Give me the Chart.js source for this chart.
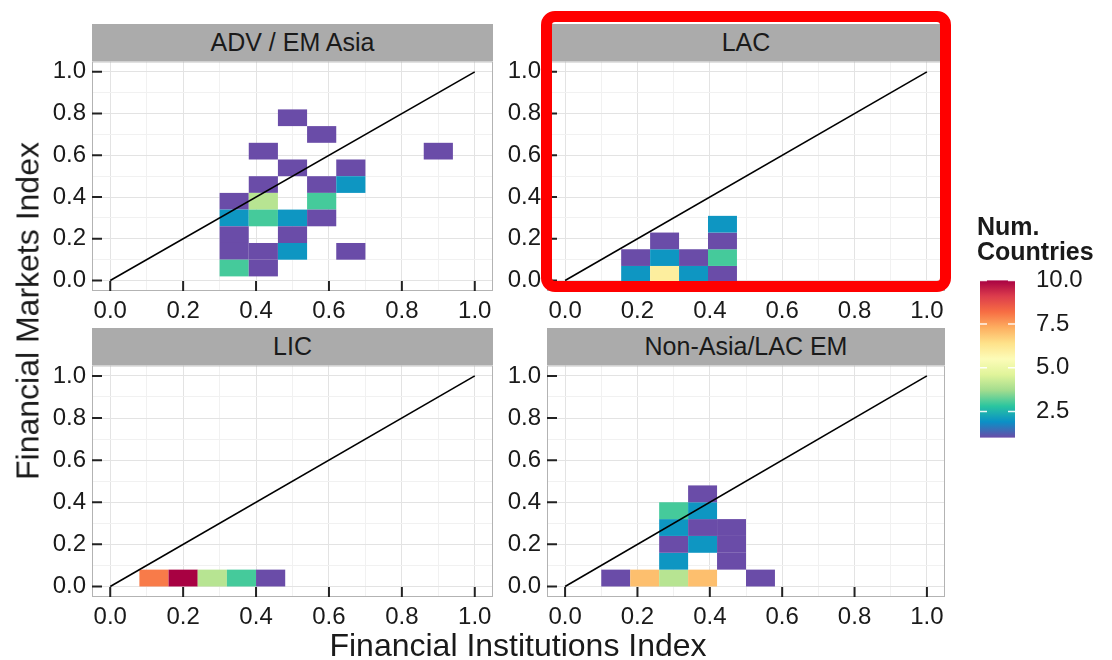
<!DOCTYPE html>
<html>
<head>
<meta charset="utf-8">
<script src="https://cdn.jsdelivr.net/npm/chart.js@4.4.1/dist/chart.umd.min.js"></script>
<style>
    body { margin: 0; background: #fff; font-family: 'Liberation Sans', Arial, sans-serif; }
    #page { position: relative; width: 1112px; height: 660px; overflow: hidden; }
    canvas { position: absolute; }
    .strip { position: absolute; height: 37px; line-height: 37px; background: #ababab; color: #1a1a1a; font-size: 25px; text-align: center; }
    .title { position: absolute; color: #1a1a1a; font-size: 32px; white-space: nowrap; }
    #legendTitle { position: absolute; left: 977px; top: 214px; font-size: 25px; font-weight: bold; line-height: 25px; color: #1a1a1a; }
    #redBox { position: absolute; left: 541px; top: 11px; width: 410px; height: 281px; box-sizing: border-box; border: 11px solid #ff0000; border-radius: 14px; }
</style>
</head>
<body>
<div id="page">
    <canvas id="advPanel" width="486" height="290" style="left:32px;top:41px"></canvas>
    <canvas id="lacPanel" width="483" height="290" style="left:487px;top:41px"></canvas>
    <canvas id="licPanel" width="486" height="292" style="left:32px;top:345px"></canvas>
    <canvas id="emPanel" width="483" height="292" style="left:487px;top:345px"></canvas>
    <canvas id="colorBar" width="135" height="212" style="left:980px;top:253px"></canvas>

    <div class="strip" style="left:92px;top:24px;width:401px">ADV / EM Asia</div>
    <div class="strip" style="left:547px;top:24px;width:398px">LAC</div>
    <div class="strip" style="left:92px;top:328px;width:401px">LIC</div>
    <div class="strip" style="left:547px;top:328px;width:398px">Non-Asia/LAC EM</div>

    <div class="title" style="left:518px;top:645px;transform:translate(-50%,-50%)">Financial Institutions Index</div>
    <div class="title" style="left:28px;top:311px;transform:translate(-50%,-50%) rotate(-90deg)">Financial Markets Index</div>

    <div id="legendTitle">Num.<br>Countries</div>
    <div id="redBox"></div>
</div>
<script>
const FONT = "'Liberation Sans', Arial, sans-serif";

// bin size of the 2d histogram
const binW = 0.08;

// ADV / EM Asia: lower-left corner of each bin and its count
const advX = [0.46, 0.54, 0.38, 0.86, 0.46, 0.62, 0.38, 0.54, 0.62, 0.30, 0.38, 0.54, 0.30, 0.38, 0.46, 0.54, 0.30, 0.46, 0.30, 0.38, 0.46, 0.62, 0.30, 0.38];
const advY = [0.74, 0.66, 0.58, 0.58, 0.50, 0.50, 0.42, 0.42, 0.42, 0.34, 0.34, 0.34, 0.26, 0.26, 0.26, 0.26, 0.18, 0.18, 0.10, 0.10, 0.10, 0.10, 0.02, 0.02];
const advN = [1, 1, 1, 1, 1, 1, 1, 1, 2, 1, 4, 3, 2, 3, 2, 1, 1, 1, 1, 1, 2, 1, 3, 1];

// LAC
const lacX = [0.155, 0.155, 0.235, 0.235, 0.235, 0.315, 0.315, 0.395, 0.395, 0.395, 0.395];
const lacY = [-0.01, 0.07, -0.01, 0.07, 0.15, -0.01, 0.07, -0.01, 0.07, 0.15, 0.23];
const lacN = [2, 1, 6, 2, 1, 2, 1, 1, 3, 1, 2];

// LIC
const licX = [0.08, 0.16, 0.24, 0.32, 0.40];
const licY = [0, 0, 0, 0, 0];
const licN = [8, 10, 4, 3, 1];

// Non-Asia/LAC EM
const emX = [0.10, 0.18, 0.26, 0.34, 0.50, 0.26, 0.42, 0.26, 0.34, 0.42, 0.26, 0.34, 0.42, 0.26, 0.34, 0.34];
const emY = [0, 0, 0, 0, 0, 0.08, 0.08, 0.16, 0.16, 0.16, 0.24, 0.24, 0.24, 0.32, 0.32, 0.40];
const emN = [1, 7, 4, 7, 1, 2, 1, 1, 2, 1, 2, 1, 1, 3, 2, 1];

// 45 degree reference line
const diagX = [0, 1];
const diagY = [0, 1];

const tickVals = [0, 0.2, 0.4, 0.6, 0.8, 1.0];
const minorVals = [0.1, 0.3, 0.5, 0.7, 0.9];
const legendTicks = [2.5, 5, 7.5, 10];
const countMin = 1;
const countMax = 10;

// spectral, low to high
const palette = ['#6a4ca8', '#0a90c6', '#2ac59f', '#a2dc8e', '#e0f49a', '#fcfcb8', '#fee28a', '#fdae60', '#f76d43', '#dc3c4c', '#a80142'];

function hexToRgb(h) {
    return [1, 3, 5].map(i => parseInt(h.slice(i, i + 2), 16));
}

function countColor(n) {
    const t = Math.min(Math.max((n - countMin) / (countMax - countMin), 0), 1) * (palette.length - 1);
    const i = Math.min(Math.floor(t), palette.length - 2);
    const f = t - i;
    const a = hexToRgb(palette[i]);
    const b = hexToRgb(palette[i + 1]);
    const c = a.map((v, k) => Math.round(v + (b[k] - v) * f));
    return `rgb(${c[0]},${c[1]},${c[2]})`;
}

const isMajor = v => tickVals.some(t => Math.abs(t - v) < 1e-6);

function axis(fitSize) {
    return {
        type: 'linear',
        min: -0.05,
        max: 1.05,
        afterBuildTicks: s => {
            s.ticks = tickVals.concat(minorVals).sort((a, b) => a - b).map(v => ({ value: v }));
        },
        afterFit: s => {
            if (s.isHorizontal()) s.height = fitSize;
            else s.width = fitSize;
        },
        grid: {
            color: c => (c.tick && isMajor(c.tick.value)) ? '#e3e3e3' : '#f1f1f1',
            lineWidth: 1,
            drawTicks: false
        },
        border: { display: false },
        ticks: {
            autoSkip: false,
            maxRotation: 0,
            padding: 6,
            color: '#1a1a1a',
            font: { size: 24, family: FONT },
            callback: v => isMajor(v) ? v.toFixed(1) : ''
        }
    };
}

function heatLayer(xs, ys, ns) {
    return {
        id: 'heat',
        beforeDatasetsDraw(chart) {
            const { ctx, chartArea, scales: { x, y } } = chart;
            ctx.save();
            ctx.beginPath();
            ctx.rect(chartArea.left, chartArea.top, chartArea.width, chartArea.height);
            ctx.clip();
            xs.forEach((x0, i) => {
                const l = x.getPixelForValue(x0);
                const r = x.getPixelForValue(x0 + binW);
                const b = y.getPixelForValue(ys[i]);
                const t = y.getPixelForValue(ys[i] + binW);
                ctx.fillStyle = countColor(ns[i]);
                ctx.fillRect(l, t, r - l, b - t);
            });
            ctx.restore();
        },
        afterDraw(chart) {
            const { ctx, chartArea, scales: { x, y } } = chart;
            ctx.save();
            ctx.strokeStyle = '#b3b3b3';
            ctx.lineWidth = 1;
            ctx.strokeRect(chartArea.left + 0.5, chartArea.top + 0.5, chartArea.width - 1, chartArea.height - 1);
            // ticks point into the panel
            ctx.strokeStyle = '#222';
            ctx.lineWidth = 2;
            ctx.beginPath();
            tickVals.forEach(v => {
                const px = x.getPixelForValue(v);
                ctx.moveTo(px, chartArea.bottom);
                ctx.lineTo(px, chartArea.bottom - 10);
                const py = y.getPixelForValue(v);
                ctx.moveTo(chartArea.left, py);
                ctx.lineTo(chartArea.left + 10, py);
            });
            ctx.stroke();
            ctx.restore();
        }
    };
}

function makePanel(id, xs, ys, ns) {
    return new Chart(document.getElementById(id), {
        type: 'scatter',
        data: {
            datasets: [{
                type: 'line',
                data: diagX.map((x, i) => ({ x, y: diagY[i] })),
                borderColor: '#000',
                borderWidth: 1.6,
                pointRadius: 0,
                fill: false
            }]
        },
        options: {
            responsive: false,
            animation: false,
            layout: { padding: { top: 20, right: 25, left: 0, bottom: 0 } },
            plugins: { legend: { display: false }, tooltip: { enabled: false } },
            scales: { x: axis(40), y: axis(60) }
        },
        plugins: [heatLayer(xs, ys, ns)]
    });
}

makePanel('advPanel', advX, advY, advN);
makePanel('lacPanel', lacX, lacY, lacN);
makePanel('licPanel', licX, licY, licN);
makePanel('emPanel', emX, emY, emN);

const colorBarLayer = {
    id: 'colorBarLayer',
    beforeDatasetsDraw(chart) {
        const { ctx, chartArea, scales: { y } } = chart;
        const g = ctx.createLinearGradient(0, y.getPixelForValue(countMin), 0, y.getPixelForValue(countMax));
        palette.forEach((c, i) => g.addColorStop(i / (palette.length - 1), c));
        ctx.save();
        ctx.fillStyle = g;
        ctx.fillRect(chartArea.left, chartArea.top, chartArea.width, chartArea.height);
        ctx.strokeStyle = 'rgba(255,255,255,0.9)';
        ctx.lineWidth = 1.5;
        ctx.beginPath();
        legendTicks.forEach(v => {
            const py = y.getPixelForValue(v);
            ctx.moveTo(chartArea.left, py);
            ctx.lineTo(chartArea.left + 7, py);
            ctx.moveTo(chartArea.right - 7, py);
            ctx.lineTo(chartArea.right, py);
        });
        ctx.stroke();
        ctx.restore();
    }
};

new Chart(document.getElementById('colorBar'), {
    type: 'scatter',
    data: { datasets: [{ data: [] }] },
    options: {
        responsive: false,
        animation: false,
        layout: { padding: { top: 20, bottom: 20, left: 0, right: 0 } },
        plugins: { legend: { display: false }, tooltip: { enabled: false } },
        scales: {
            x: { display: false },
            y: {
                position: 'right',
                min: countMin,
                max: countMax,
                afterBuildTicks: s => { s.ticks = legendTicks.map(v => ({ value: v })); },
                afterFit: s => { s.width = 100; },
                grid: { display: false },
                border: { display: false },
                ticks: {
                    padding: 13,
                    color: '#1a1a1a',
                    font: { size: 24, family: FONT },
                    callback: v => v.toFixed(1)
                }
            }
        }
    },
    plugins: [colorBarLayer]
});
</script>
</body>
</html>
